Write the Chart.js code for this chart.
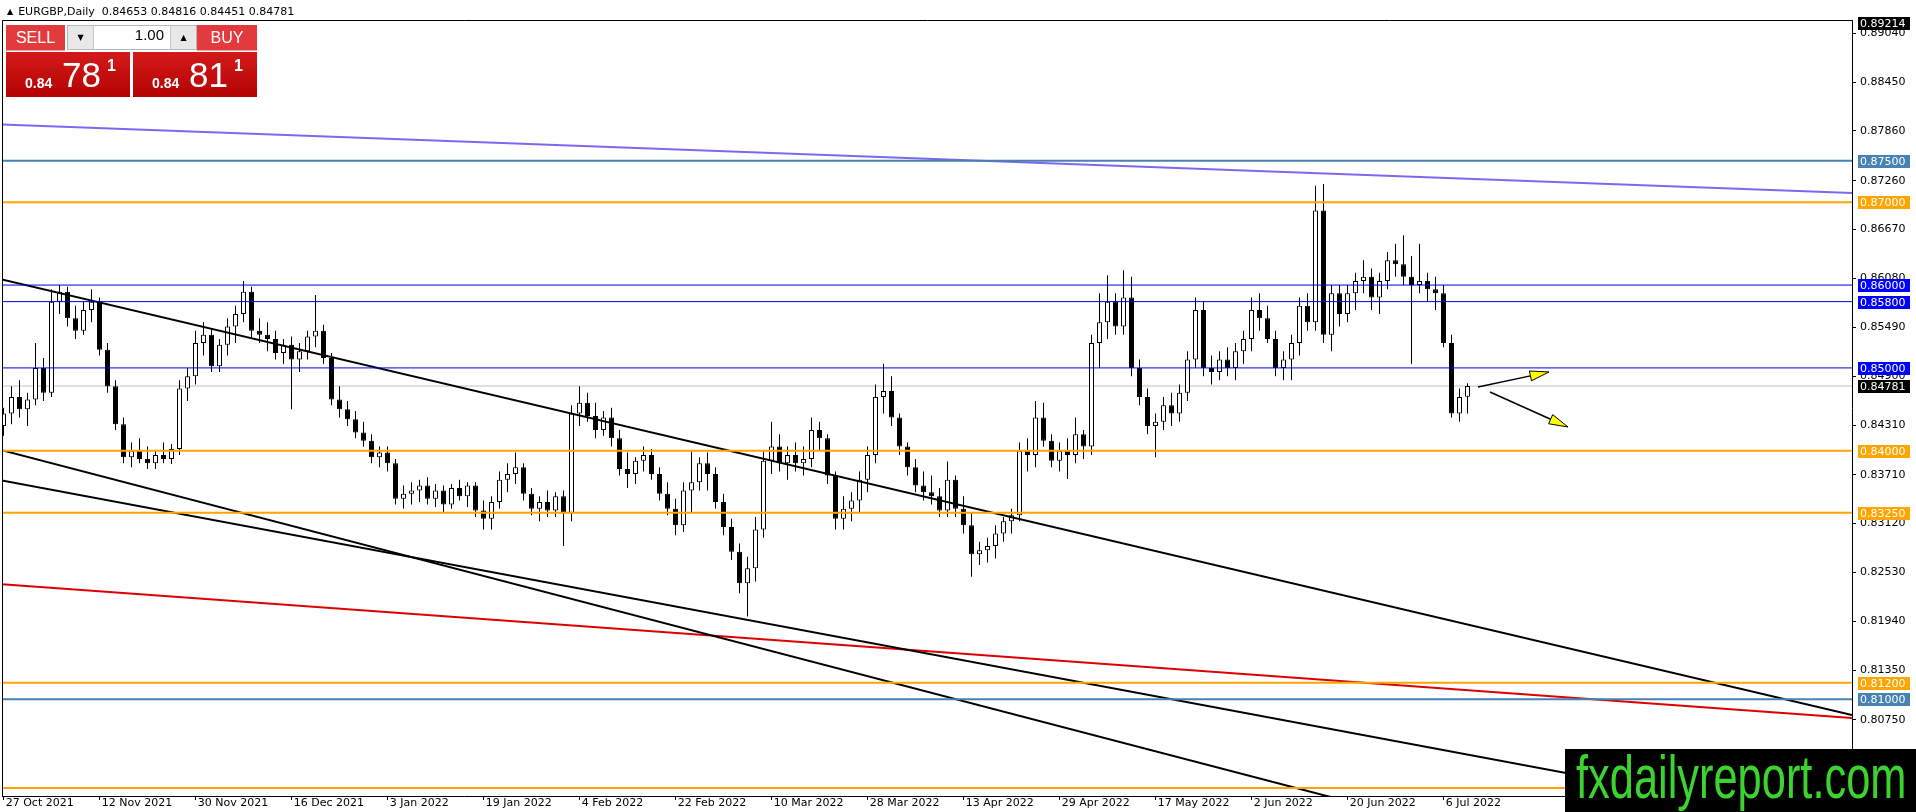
<!DOCTYPE html>
<html lang="en">
<head>
  <meta charset="UTF-8">
  <title>EURGBP, Daily</title>
  <script src="https://cdn.jsdelivr.net/npm/chart.js"></script>
  <style>
    html, body { margin: 0; padding: 0; background: #fff; }
    body { width: 1916px; height: 812px; position: relative; overflow: hidden; font-family: "DejaVu Sans", sans-serif; }
    #chart { position: absolute; left: 0; top: 0; }
    #hdr { position: absolute; left: 7px; top: 5px; font-size: 11px; line-height: 14px; color: #000; white-space: pre; }
    #hdr .tri { font-size: 8px; vertical-align: 1px; margin-right: 5px; }
    .btn { position: absolute; top: 25px; height: 25px; background: #e33b3d; color: #fff; font: 16px "Liberation Sans", sans-serif; line-height: 25px; text-align: center; border-bottom: 1px solid #f3a3a3; }
    #sell { left: 6px; width: 59px; }
    #buy { left: 197px; width: 60px; }
    #lot { position: absolute; left: 67px; top: 25px; width: 130px; height: 25px; background: #fff; border: 1px solid #b8b8b8; box-sizing: border-box; }
    #lot .dn, #lot .up { position: absolute; top: 0; width: 25px; height: 23px; background: #e8e8e8; font-size: 8px; line-height: 23px; text-align: center; color: #000; }
    #lot .dn { left: 0; border-right: 1px solid #c8c8c8; }
    #lot .up { right: 0; border-left: 1px solid #c8c8c8; }
    #lot .val { position: absolute; left: 26px; right: 27px; top: 0; height: 23px; line-height: 23px; text-align: right; padding-right: 5px; font: 15px "Liberation Sans", sans-serif; color: #000; }
    .price { position: absolute; top: 52px; width: 124px; height: 45px; background: linear-gradient(#d41a1a, #b30303); color: #fff; font-family: "Liberation Sans", sans-serif; }
    #sellp { left: 6px; }
    #buyp { left: 133px; }
    .price .sm { position: absolute; left: 19px; top: 24px; font-size: 14px; font-weight: bold; line-height: 14px; }
    .price .big { position: absolute; left: 56px; top: 5px; font-size: 35px; line-height: 35px; }
    .price .sup { position: absolute; left: 101px; top: 6px; font-size: 16px; font-weight: bold; line-height: 16px; }
    #wm { position: absolute; left: 1565px; top: 749px; width: 351px; height: 63px; background: #000; overflow: hidden; }
    #wm span { position: absolute; left: 11px; top: -3px; font: 62px "Liberation Sans", sans-serif; line-height: 62px; color: #3bd42f; transform: scaleX(0.70); transform-origin: 0 0; white-space: nowrap; }
  </style>
</head>
<body>
  <canvas id="chart" width="1916" height="812"></canvas>
  <div id="hdr"><span class="tri">&#9650;</span><span id="hdrText"></span></div>
  <div id="sell" class="btn">SELL</div>
  <div id="lot"><div class="dn">&#9660;</div><div class="val">1.00</div><div class="up">&#9650;</div></div>
  <div id="buy" class="btn">BUY</div>
  <div id="sellp" class="price"><span class="sm">0.84</span><span class="big">78</span><span class="sup">1</span></div>
  <div id="buyp" class="price"><span class="sm">0.84</span><span class="big">81</span><span class="sup">1</span></div>
  <div id="wm"><span>fxdailyreport.com</span></div>

  <script>
    // --- data ---
    const symbol = 'EURGBP,Daily';

    // time axis: bar index of each date label
    const tickBars = [0, 12, 24, 36, 48, 60, 72, 84, 96, 108, 120, 132, 144, 156, 168, 180];
    const tickLabels = ['27 Oct 2021', '12 Nov 2021', '30 Nov 2021', '16 Dec 2021', '3 Jan 2022', '19 Jan 2022',
      '4 Feb 2022', '22 Feb 2022', '10 Mar 2022', '28 Mar 2022', '13 Apr 2022', '29 Apr 2022',
      '17 May 2022', '2 Jun 2022', '20 Jun 2022', '6 Jul 2022'];

    // price axis labels
    const priceTicks = [0.89040, 0.88450, 0.87860, 0.87260, 0.86670, 0.86080, 0.85490, 0.84900,
      0.84310, 0.83710, 0.83120, 0.82530, 0.81940, 0.81350, 0.80750];
    const chartMaxPrice = 0.89214;

    // daily candles, 27 Oct 2021 .. 11 Jul 2022
    const open = [
      .8430, .8445, .8465, .8450, .8462, .8500, .8470, .8580, .8592, .8560, .8545, .8570,
      .8580, .8522, .8478, .8432, .8392, .8400, .8390, .8385, .8395, .8390, .8402, .8475,
      .8490, .8530, .8540, .8502, .8528, .8550, .8565, .8592, .8545, .8540, .8535, .8518,
      .8528, .8510, .8520, .8538, .8545, .8512, .8462, .8450, .8438, .8422, .8412, .8392,
      .8398, .8385, .8342, .8348, .8352, .8358, .8342, .8352, .8335, .8355, .8345, .8358,
      .8328, .8318, .8338, .8365, .8372, .8380, .8348, .8330, .8338, .8328, .8345, .8325,
      .8445, .8458, .8442, .8425, .8440, .8415, .8378, .8372, .8388, .8395, .8372, .8348,
      .8330, .8310, .8352, .8362, .8385, .8372, .8338, .8308, .8278, .8240, .8258, .8305,
      .8388, .8405, .8385, .8395, .8385, .8390, .8425, .8415, .8370, .8318, .8330, .8340,
      .8365, .8395, .8465, .8472, .8440, .8405, .8380, .8358, .8350, .8345, .8328, .8365,
      .8330, .8310, .8275, .8280, .8285, .8300, .8315, .8322, .8400, .8395, .8440, .8412,
      .8388, .8400, .8395, .8420, .8405, .8530, .8555, .8580, .8550, .8585, .8500, .8465,
      .8430, .8435, .8455, .8445, .8470, .8510, .8570, .8500, .8495, .8510, .8500, .8520,
      .8535, .8570, .8560, .8535, .8500, .8510, .8530, .8575, .8555, .8690, .8540, .8590,
      .8565, .8590, .8605, .8610, .8585, .8605, .8630, .8625, .8610, .8600, .8605, .8595,
      .8590, .8530, .8445, .84653];
    const high = [
      .8452, .8478, .8485, .8470, .8530, .8512, .8595, .8600, .8598, .8575, .8580, .8595,
      .8585, .8530, .8485, .8440, .8410, .8415, .8405, .8400, .8410, .8408, .8485, .8500,
      .8545, .8555, .8548, .8535, .8560, .8575, .8605, .8598, .8560, .8555, .8545, .8535,
      .8538, .8530, .8545, .8588, .8552, .8518, .8478, .8460, .8448, .8435, .8420, .8405,
      .8405, .8390, .8358, .8362, .8365, .8368, .8360, .8358, .8360, .8365, .8362, .8362,
      .8340, .8345, .8375, .8385, .8398, .8385, .8355, .8345, .8352, .8350, .8352, .8455,
      .8478, .8470, .8458, .8448, .8452, .8425, .8398, .8392, .8405, .8402, .8380, .8362,
      .8342, .8362, .8400, .8392, .8398, .8380, .8348, .8318, .8288, .8272, .8320, .8400,
      .8435, .8420, .8405, .8410, .8405, .8440, .8435, .8420, .8375, .8345, .8350, .8375,
      .8405, .8480, .8505, .8490, .8445, .8410, .8390, .8375, .8370, .8355, .8387, .8370,
      .8345, .8325, .8290, .8295, .8310, .8320, .8330, .8410, .8415, .8460, .8458, .8420,
      .8410, .8415, .8440, .8425, .8540, .8590, .8612, .8590, .8618, .8610, .8510, .8475,
      .8445, .8465, .8470, .8480, .8520, .8585, .8580, .8515, .8520, .8525, .8530, .8545,
      .8585, .8590, .8575, .8545, .8520, .8540, .8585, .8590, .8720, .8722, .8600, .8600,
      .8600, .8615, .8630, .8620, .8615, .8640, .8650, .8660, .8635, .8650, .8615, .8610,
      .8600, .8540, .8475, .84816];
    const low = [
      .8418, .8432, .8440, .8430, .8455, .8460, .8465, .8565, .8550, .8535, .8540, .8555,
      .8515, .8470, .8425, .8385, .8380, .8385, .8378, .8378, .8385, .8384, .8395, .8460,
      .8480, .8515, .8495, .8495, .8515, .8530, .8555, .8535, .8530, .8520, .8510, .8505,
      .8450, .8495, .8510, .8525, .8505, .8455, .8440, .8430, .8415, .8405, .8385, .8380,
      .8375, .8335, .8330, .8335, .8338, .8335, .8332, .8325, .8330, .8340, .8332, .8320,
      .8305, .8305, .8330, .8350, .8360, .8340, .8322, .8315, .8320, .8320, .8285, .8315,
      .8430, .8435, .8415, .8418, .8405, .8370, .8355, .8360, .8375, .8365, .8340, .8322,
      .8298, .8302, .8325, .8352, .8352, .8330, .8298, .8268, .8228, .8200, .8242, .8295,
      .8372, .8375, .8365, .8375, .8370, .8380, .8400, .8360, .8305, .8305, .8315, .8325,
      .8350, .8385, .8445, .8430, .8395, .8370, .8350, .8340, .8335, .8320, .8320, .8320,
      .8300, .8248, .8262, .8265, .8270, .8290, .8300, .8315, .8375, .8380, .8405, .8380,
      .8375, .8366, .8385, .8390, .8395, .8500, .8535, .8540, .8540, .8490, .8455, .8420,
      .8392, .8425, .8430, .8435, .8460, .8500, .8490, .8480, .8485, .8490, .8485, .8505,
      .8520, .8545, .8530, .8490, .8485, .8485, .8515, .8545, .8545, .8530, .8520, .8550,
      .8555, .8570, .8590, .8570, .8565, .8595, .8610, .8600, .8505, .8590, .8580, .8570,
      .8525, .8440, .8435, .84451];
    const close = [
      .8445, .8465, .8450, .8462, .8500, .8470, .8580, .8592, .8560, .8545, .8570, .8580,
      .8522, .8478, .8432, .8392, .8400, .8390, .8385, .8395, .8390, .8402, .8475, .8490,
      .8530, .8540, .8502, .8528, .8550, .8565, .8592, .8545, .8540, .8535, .8518, .8528,
      .8510, .8520, .8538, .8545, .8512, .8462, .8450, .8438, .8422, .8412, .8392, .8398,
      .8385, .8342, .8348, .8352, .8358, .8342, .8352, .8335, .8355, .8345, .8358, .8328,
      .8318, .8338, .8365, .8372, .8380, .8348, .8330, .8338, .8328, .8345, .8325, .8445,
      .8458, .8442, .8425, .8440, .8415, .8378, .8372, .8388, .8395, .8372, .8348, .8330,
      .8310, .8352, .8362, .8385, .8372, .8338, .8308, .8278, .8240, .8258, .8305, .8388,
      .8405, .8385, .8395, .8385, .8390, .8425, .8415, .8370, .8318, .8330, .8340, .8365,
      .8395, .8465, .8472, .8440, .8405, .8380, .8358, .8350, .8345, .8328, .8365, .8330,
      .8310, .8275, .8280, .8285, .8300, .8315, .8322, .8400, .8395, .8440, .8412, .8388,
      .8400, .8395, .8420, .8405, .8530, .8555, .8580, .8550, .8585, .8500, .8465, .8430,
      .8435, .8455, .8445, .8470, .8510, .8570, .8500, .8495, .8510, .8500, .8520, .8535,
      .8570, .8560, .8535, .8500, .8510, .8530, .8575, .8555, .8690, .8540, .8590, .8565,
      .8590, .8605, .8610, .8585, .8605, .8630, .8625, .8610, .8600, .8605, .8595, .8590,
      .8530, .8445, .8465, .84781];

    // horizontal levels
    const levelPrices = [0.87500, 0.87000, 0.86000, 0.85800, 0.85000, 0.84000, 0.83250, 0.81200, 0.81000, 0.79930];

    // trend lines, [bar, price] at both ends
    const purpleLine = [[-0.4375, 0.87938], [231.0625, 0.87112]];
    const upperLine = [[-0.4375, 0.86074], [231.0625, 0.80810]];
    const channelA = [[-0.4375, 0.84013], [231.0625, 0.78177]];
    const channelB = [[-0.4375, 0.83645], [231.0625, 0.79464]];
    const redLine = [[-0.4375, 0.82391], [231.0625, 0.80774]];

    // arrows, [bar, price] of tail and tip
    const arrowTails = [[184.31, 0.84770], [185.81, 0.84709]];
    const arrowTips = [[193.19, 0.84951], [195.56, 0.84287]];

    // --- styles ---
    const xMin = -0.1875, xMax = 231.0625;
    const yMin = 0.79832, yMax = 0.89200;
    const levelColors = ['#4682b4', '#ffa500', '#0000e0', '#0000e0', '#0000e0', '#ffa500', '#ffa500', '#ffa500', '#4682b4', '#ffa500'];
    const levelLabelColors = ['#4682b4', '#ffa500', '#0000ff', '#0000ff', '#0000ff', '#ffa500', '#ffa500', '#ffa500', '#4682b4', '#ffa500'];
    const levelWidths = [2, 2, 1, 1, 1, 2, 2, 2, 2, 2];
    const axisFont = { family: 'DejaVu Sans', size: 11 };

    const last = open.length - 1;
    document.getElementById('hdrText').textContent =
      symbol + '  ' + [open[last], high[last], low[last], close[last]].map(v => v.toFixed(5)).join(' ');

    const seg = (p) => p.map(([x, y]) => ({ x: x, y: y }));
    const lineSet = (points, color, width, order) => ({
      type: 'line', data: seg(points), borderColor: color, borderWidth: width,
      pointRadius: 0, fill: false, tension: 0, order: order
    });

    const datasets = [];
    levelPrices.forEach((p, k) => {
      datasets.push(lineSet([[xMin - 1, p], [xMax + 1, p]], levelColors[k], levelWidths[k], 0));
    });
    datasets.push(lineSet(purpleLine, '#7b68ee', 2, 0));
    datasets.push(lineSet(upperLine, '#000', 2, 0));
    datasets.push(lineSet(channelA, '#000', 2, 0));
    datasets.push(lineSet(channelB, '#000', 2, 0));
    datasets.push(lineSet(redLine, '#dd0000', 2, 0));

    // candles: bodies over wicks, current price line underneath
    datasets.push({
      type: 'bar',
      data: open.map((o, i) => ({ x: i, y: [o, close[i]] })),
      backgroundColor: open.map((o, i) => close[i] >= o ? '#ffffff' : '#000000'),
      borderColor: '#000', borderWidth: 1, borderSkipped: false,
      barThickness: 5, minBarLength: 1, grouped: false, inflateAmount: 0, order: 2
    });
    datasets.push({
      type: 'bar',
      data: open.map((o, i) => ({ x: i, y: [low[i], high[i]] })),
      backgroundColor: '#000', borderWidth: 0,
      barThickness: 1, grouped: false, inflateAmount: 0, order: 3
    });
    datasets.push(lineSet([[xMin - 1, close[last]], [xMax + 1, close[last]]], '#c0c0c0', 1, 4));

    const overlay = {
      id: 'overlay',
      afterDraw(chart) {
        const { ctx, chartArea: a, scales: { x, y } } = chart;
        ctx.save();

        // frame top and left
        ctx.strokeStyle = '#000';
        ctx.lineWidth = 1;
        ctx.beginPath();
        ctx.moveTo(a.left + 0.5, a.bottom);
        ctx.lineTo(a.left + 0.5, a.top + 0.5);
        ctx.lineTo(a.right, a.top + 0.5);
        ctx.stroke();

        // arrows
        ctx.beginPath();
        ctx.rect(a.left, a.top, a.right - a.left, a.bottom - a.top);
        ctx.clip();
        arrowTails.forEach((t, k) => {
          const x0 = x.getPixelForValue(t[0]), y0 = y.getPixelForValue(t[1]);
          const x1 = x.getPixelForValue(arrowTips[k][0]), y1 = y.getPixelForValue(arrowTips[k][1]);
          const ang = Math.atan2(y1 - y0, x1 - x0);
          const len = 19, half = 5;
          const bx = x1 - len * Math.cos(ang), by = y1 - len * Math.sin(ang);
          ctx.strokeStyle = '#000';
          ctx.lineWidth = 1.5;
          ctx.beginPath();
          ctx.moveTo(x0, y0);
          ctx.lineTo(bx, by);
          ctx.stroke();
          ctx.beginPath();
          ctx.moveTo(x1, y1);
          ctx.lineTo(bx + half * Math.sin(ang), by - half * Math.cos(ang));
          ctx.lineTo(bx - half * Math.sin(ang), by + half * Math.cos(ang));
          ctx.closePath();
          ctx.fillStyle = '#ffff00';
          ctx.fill();
          ctx.lineWidth = 1;
          ctx.stroke();
        });
        ctx.restore();

        // price labels on the scale
        ctx.save();
        ctx.font = '11px "DejaVu Sans"';
        ctx.textBaseline = 'middle';
        ctx.textAlign = 'left';
        const box = (price, bg) => {
          let py = Math.round(y.getPixelForValue(price));
          if (py > a.bottom) return;
          let top = Math.max(py - 6, a.top - 3);
          ctx.fillStyle = bg;
          ctx.fillRect(a.right + 6, top, 52, 13);
          ctx.fillStyle = '#fff';
          ctx.fillText(price.toFixed(5), a.right + 8, top + 7);
        };
        box(chartMaxPrice, '#000');
        levelPrices.forEach((p, k) => box(p, levelLabelColors[k]));
        box(close[last], '#000');
        ctx.restore();
      }
    };

    new Chart(document.getElementById('chart'), {
      type: 'bar',
      data: { datasets: datasets },
      plugins: [overlay],
      options: {
        responsive: false,
        devicePixelRatio: 1,
        animation: false,
        events: [],
        layout: { padding: { top: 20, left: 2, right: 0, bottom: 0 } },
        plugins: { legend: { display: false }, tooltip: { enabled: false } },
        scales: {
          x: {
            type: 'linear',
            min: xMin,
            max: xMax,
            offset: false,
            afterBuildTicks: (s) => { s.ticks = tickBars.map(v => ({ value: v })); },
            afterFit: (s) => { s.height = 16; },
            grid: { display: true, drawOnChartArea: false, drawTicks: true, tickLength: 4, color: '#000', offset: false },
            border: { display: true, color: '#000', width: 1 },
            ticks: {
              autoSkip: false, maxRotation: 0, minRotation: 0, align: 'start', padding: -3,
              color: '#000', font: axisFont,
              callback: (v, i) => '\u2009' + tickLabels[i]
            }
          },
          y: {
            type: 'linear',
            position: 'right',
            min: yMin,
            max: yMax,
            afterBuildTicks: (s) => { s.ticks = priceTicks.map(v => ({ value: v })); },
            afterFit: (s) => { s.width = 64; },
            grid: { display: true, drawOnChartArea: false, drawTicks: true, tickLength: 4, color: '#000' },
            border: { display: true, color: '#000', width: 1 },
            ticks: {
              autoSkip: false, padding: 4, color: '#000', font: axisFont,
              callback: (v) => v.toFixed(5)
            }
          }
        }
      }
    });
  </script>
</body>
</html>
